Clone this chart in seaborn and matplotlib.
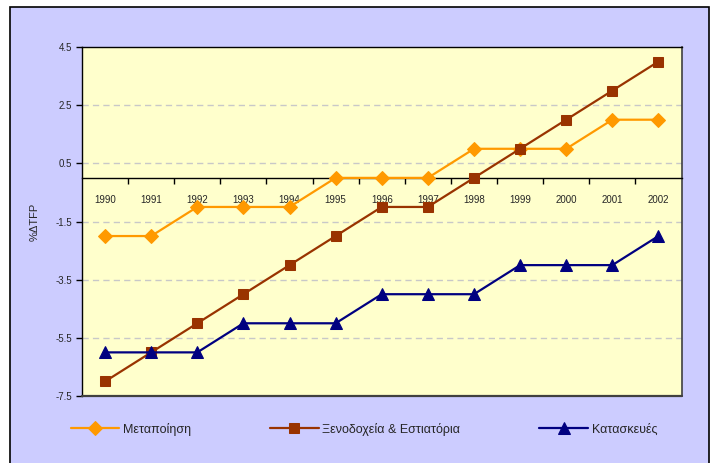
import pandas as pd
import matplotlib.pyplot as plt
import matplotlib.patches as mpatches
import seaborn as sns

years = list(range(1990, 2003))
metapoiisi = [-2, -2, -1, -1, -1, 0, 0, 0, 1, 1, 1, 2, 2]
xenodoxeia = [-7, -6, -5, -4, -3, -2, -1, -1, 0, 1, 2, 3, 4]
kataskeues = [-6, -6, -6, -5, -5, -5, -4, -4, -4, -3, -3, -3, -2]
series_names = ['Μεταποίηση', 'Ξενοδοχεία & Εστιατόρια', 'Κατασκευές']
y_ticks = [4.5, 2.5, 0.5, -1.5, -3.5, -5.5, -7.5]

df = pd.DataFrame({
    'year': years * 3,
    'value': metapoiisi + xenodoxeia + kataskeues,
    'series': [s for s in series_names for _ in years],
})

sns.set_theme(style="white")
plt.rcParams['font.family'] = ['Liberation Sans', 'DejaVu Sans']

fig = plt.figure(figsize=(7.12, 4.63), dpi=100)
fig.patch.set_facecolor('white')
# lavender chart area with black frame
fig.patches.append(mpatches.Rectangle((10 / 712, -0.01), 699 / 712, 1 - 7 / 463 + 0.01,
                                      transform=fig.transFigure, facecolor='#CCCCFF',
                                      edgecolor='black', linewidth=1.2, zorder=-5))

ax = fig.add_axes([82 / 712, 1 - 396 / 463, 599.5 / 712, 349 / 463])
ax.set_zorder(2)
ax.set_facecolor('#FFFFCC')

styles = {
    'Μεταποίηση': dict(color='#FF9900', marker='D', markersize=7),
    'Ξενοδοχεία & Εστιατόρια': dict(color='#993300', marker='s', markersize=7),
    'Κατασκευές': dict(color='#000080', marker='^', markersize=8.5),
}
for name in series_names:
    sub = df[df['series'] == name]
    st = styles[name]
    sns.lineplot(data=sub, x='year', y='value', ax=ax, label=name, color=st['color'],
                 marker=st['marker'], markersize=st['markersize'], markeredgecolor=st['color'],
                 linewidth=1.6, zorder=3)

ax.set_xlim(1989.5, 2002.5)
ax.set_ylim(-7.5, 4.5)

for y in y_ticks[1:-1]:
    ax.axhline(y, color='#C8C8C8', linestyle=(0, (4.5, 3)), linewidth=1, zorder=1)

# x axis sits at zero
ax.spines['bottom'].set_position(('data', 0))
ax.spines['bottom'].set_color('black')
ax.spines['bottom'].set_linewidth(1)
for side in ['left', 'top']:
    ax.spines[side].set_color('black')
    ax.spines[side].set_linewidth(1)
ax.spines['right'].set_color('#404040')
ax.spines['right'].set_linewidth(1.2)
ax.axhline(-7.5, color='#404040', linewidth=1.6, clip_on=False, zorder=4)

ax.set_xticks(years)
ax.set_xticklabels([str(y) for y in years], fontsize=7)
ax.set_xticks([y + 0.5 for y in years[:-1]], minor=True)
ax.tick_params(axis='x', which='major', length=0, pad=12)
ax.tick_params(axis='x', which='minor', length=4, width=1, color='black', direction='out', bottom=True)

ax.set_yticks(y_ticks)
ax.set_yticklabels([f'{v:.1f}' for v in y_ticks], fontsize=7)
ax.tick_params(axis='y', length=4, width=1, color='black', direction='out', left=True, pad=3)

ax.set_xlabel('')
ax.set_ylabel('%ΔTFP', fontsize=8)
ax.yaxis.set_label_coords(-0.071, 0.5)

leg = ax.legend(loc='center', bbox_to_anchor=(0.511, 0.073), bbox_transform=fig.transFigure,
                ncol=3, frameon=False, fontsize=9, handlelength=3.9, handletextpad=0.3,
                columnspacing=6.3)

fig.savefig('out.png', dpi=100, facecolor=fig.get_facecolor())
